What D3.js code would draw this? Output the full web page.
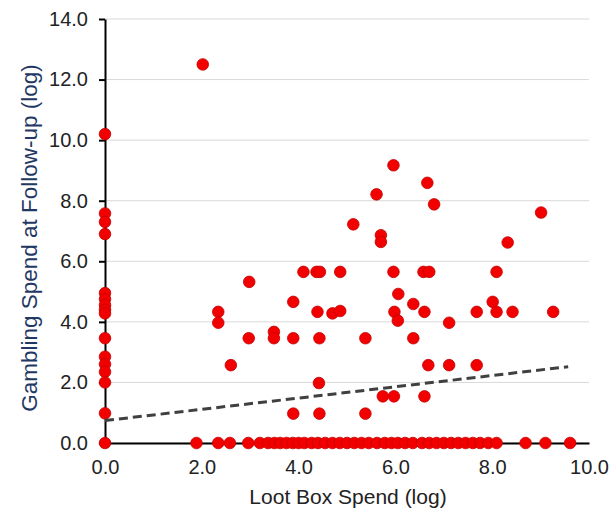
<!DOCTYPE html>
<html>
<head>
<meta charset="utf-8">
<script src="https://cdn.jsdelivr.net/npm/d3@7"></script>
<style>
  body { margin: 0; background: #fff; }
  svg { display: block; font-family: "Liberation Sans", Arial, sans-serif; }
</style>
</head>
<body>
<svg id="chart" width="614" height="514"></svg>
<script>
// Loot box spend (x, log) vs gambling spend at follow-up (y, log)
const lootBox = [
  0, 0, 0, 0, 0, 0, 0, 0, 0, 0, 0, 0, 0, 0, 0, 0,
  2.02, 5.96, 5.61, 6.66, 6.80, 9.01, 5.13, 5.70, 5.70, 8.32,
  4.10, 4.37, 4.44, 4.86, 5.96, 6.58, 6.70, 8.09, 2.98,
  3.89, 6.06, 6.37, 8.01, 2.34, 2.34, 4.39, 4.70, 4.86, 5.98, 6.05,
  6.60, 7.11, 7.68, 8.09, 8.42, 9.26,
  2.97, 3.49, 3.49, 3.89, 4.43, 5.38, 6.37,
  2.60, 6.68, 7.11, 7.68, 4.42, 5.74, 5.97, 6.60, 3.89, 4.43, 5.38,
  1.89, 2.34, 2.58, 2.96, 3.20, 3.37, 3.50, 3.62, 3.75, 3.88, 4.00, 4.12,
  4.27, 4.40, 4.55, 4.70, 4.85, 5.00, 5.15, 5.30, 5.45, 5.62, 5.78, 5.92,
  6.05, 6.20, 6.36, 6.55, 6.70, 6.85, 7.00, 7.15, 7.30, 7.45, 7.60, 7.75,
  7.92, 8.09, 8.69, 9.10, 9.61
];
const gamblingFollowUp = [
  10.2, 7.58, 7.30, 6.90, 4.95, 4.75, 4.55, 4.40, 4.28, 3.46, 2.85, 2.60, 2.35, 2.00, 0.98, 0,
  12.5, 9.17, 8.21, 8.59, 7.88, 7.61, 7.22, 6.86, 6.64, 6.62,
  5.65, 5.65, 5.65, 5.65, 5.65, 5.65, 5.65, 5.65, 5.32,
  4.66, 4.92, 4.59, 4.66, 4.33, 3.97, 4.33, 4.28, 4.36, 4.33, 4.04,
  4.33, 3.97, 4.33, 4.33, 4.33, 4.33,
  3.46, 3.67, 3.46, 3.46, 3.46, 3.46, 3.46,
  2.57, 2.57, 2.57, 2.57, 1.98, 1.54, 1.54, 1.54, 0.97, 0.97, 0.97,
  0, 0, 0, 0, 0, 0, 0, 0, 0, 0, 0, 0,
  0, 0, 0, 0, 0, 0, 0, 0, 0, 0, 0, 0,
  0, 0, 0, 0, 0, 0, 0, 0, 0, 0, 0, 0,
  0, 0, 0, 0, 0
];
// fitted trend line end points
const trendX = [0, 9.57];
const trendY = [0.74, 2.52];
const xTicks = [0, 2, 4, 6, 8, 10];
const yTicks = [0, 2, 4, 6, 8, 10, 12, 14];

const xTitle = "Loot Box Spend (log)";
const yTitle = "Gambling Spend at Follow-up (log)";

const svg = d3.select("#chart");
const margin = {top: 19, right: 25, bottom: 71, left: 105};
const width = 614 - margin.left - margin.right;
const height = 514 - margin.top - margin.bottom;

const x = d3.scaleLinear().domain([0, 10]).range([0, width]);
const y = d3.scaleLinear().domain([0, 14]).range([height, 0]);
const fmt = d3.format(".1f");

const g = svg.append("g")
    .attr("transform", `translate(${margin.left},${margin.top})`);

// gridlines
g.append("g")
    .selectAll("line")
    .data(yTicks)
    .join("line")
    .attr("x1", 0)
    .attr("x2", width)
    .attr("y1", d => y(d))
    .attr("y2", d => y(d))
    .attr("stroke", "#d9d9d9")
    .attr("stroke-width", 1);

// y axis
const yAxis = g.append("g")
    .call(d3.axisLeft(y).tickValues(yTicks).tickFormat(fmt).tickSizeInner(6).tickSizeOuter(0).tickPadding(11));
yAxis.select(".domain").attr("stroke", "#000").attr("stroke-width", 2);
yAxis.selectAll(".tick line").attr("stroke", "#000").attr("stroke-width", 2);
yAxis.selectAll(".tick text")
    .attr("fill", "#222")
    .style("font-size", "20px")
    .style("font-family", "Liberation Sans, Arial, sans-serif");

// x axis
const xAxis = g.append("g")
    .attr("transform", `translate(0,${height})`)
    .call(d3.axisBottom(x).tickValues(xTicks).tickFormat(fmt).tickSize(0).tickPadding(17));
xAxis.select(".domain").attr("stroke", "#000").attr("stroke-width", 2);
xAxis.selectAll(".tick text")
    .attr("fill", "#222")
    .style("font-size", "20px")
    .style("font-family", "Liberation Sans, Arial, sans-serif");

// points
const points = lootBox.map((v, i) => ({x: v, y: gamblingFollowUp[i]}));
g.append("g")
    .selectAll("circle")
    .data(points)
    .join("circle")
    .attr("cx", d => x(d.x))
    .attr("cy", d => y(d.y))
    .attr("r", 5.8)
    .attr("fill", "#f20000")
    .attr("stroke", "#c40000")
    .attr("stroke-width", 0.8);

// trend line
const line = d3.line().x(d => x(d[0])).y(d => y(d[1]));
g.append("path")
    .datum(trendX.map((v, i) => [v, trendY[i]]))
    .attr("d", line)
    .attr("fill", "none")
    .attr("stroke", "#404040")
    .attr("stroke-width", 3)
    .attr("stroke-dasharray", "9,5");

// axis titles
svg.append("text")
    .attr("x", 348)
    .attr("y", 504)
    .attr("text-anchor", "middle")
    .attr("fill", "#222")
    .style("font-size", "21px")
    .text(xTitle);

svg.append("text")
    .attr("transform", "translate(37,238) rotate(-90)")
    .attr("text-anchor", "middle")
    .attr("fill", "#1f3864")
    .style("font-size", "22.5px")
    .text(yTitle);
</script>
</body>
</html>
